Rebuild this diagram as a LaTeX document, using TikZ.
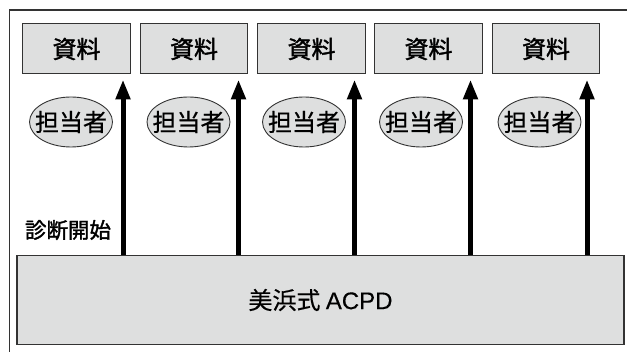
\documentclass[tikz,border=0pt]{standalone}
\usepackage{fontspec}
\setmainfont{Noto Sans CJK JP}
\newfontfamily\cjkheavy[FakeBold=1.6]{Noto Sans CJK JP}
\newfontfamily\cjkmid[FakeBold=0.7]{Noto Sans CJK JP}
\newfontfamily\cjklight[FakeBold=0.3]{Noto Sans CJK JP}
\newfontfamily\latinsans[FakeBold=0.3]{Liberation Sans}
\usetikzlibrary{arrows.meta,shapes.geometric}
\definecolor{boxfill}{HTML}{DEDFDF}
\definecolor{edge}{HTML}{333333}
\tikzset{
  resbox/.style={draw=edge, line width=1pt, fill=boxfill, minimum width=107.5pt, minimum height=50pt, inner sep=0pt, font=\fontsize{24}{24}\selectfont\cjkheavy},
  staff/.style={ellipse, draw=edge, line width=0.9pt, fill=boxfill, minimum width=83pt, minimum height=50pt, inner sep=0pt},
  stafftext/.style={inner sep=0pt, font=\fontsize{24}{24}\selectfont\cjkmid},
  bigbox/.style={draw=edge, line width=1.2pt, fill=boxfill, minimum width=607pt, minimum height=89.5pt, inner sep=0pt, font=\fontsize{24}{24}\selectfont\cjklight},
  startlabel/.style={inner sep=0pt, font=\fontsize{21.5}{21.5}\selectfont\cjkheavy},
  uparrow/.style={line width=5pt, -{Triangle[width=14pt,length=20pt]}, shorten >=5pt},
  frameline/.style={draw=edge, line width=1.2pt}
}
\begin{document}
\begin{tikzpicture}[x=1pt,y=-1pt]
\useasboundingbox (0,0) rectangle (627,352);
\draw[frameline] (627,10) -- (9.5,10) -- (9.5,352);
% ACPD box
\node[bigbox] (acpd) at (320.5,300) {美浜式 {\latinsans ACPD}};
% resource boxes
\node[resbox] (r1) at (76.5,49) {資料};
\node[resbox] (r2) at (194,49) {資料};
\node[resbox] (r3) at (311.5,49) {資料};
\node[resbox] (r4) at (428.5,49) {資料};
\node[resbox] (r5) at (546,49) {資料};
% staff ellipses
\node[staff] (s1) at (71,122) {};
\node[staff] (s2) at (188.5,122) {};
\node[staff] (s3) at (304,122) {};
\node[staff] (s4) at (421,122) {};
\node[staff] (s5) at (539.5,122) {};
\foreach \i in {1,...,5} {\node[stafftext] at (s\i) {担当者};}
% start label
\node[startlabel] (start) at (68,230) {診断開始};
% arrows
\coordinate (t1) at (123,79);
\coordinate (t2) at (238.5,79);
\coordinate (t3) at (354.5,79);
\coordinate (t4) at (470.5,79);
\coordinate (t5) at (587,79);
\foreach \i in {1,...,5} {\draw[uparrow] (acpd.north -| t\i) -- (r\i.south -| t\i);}
\end{tikzpicture}
\end{document}
